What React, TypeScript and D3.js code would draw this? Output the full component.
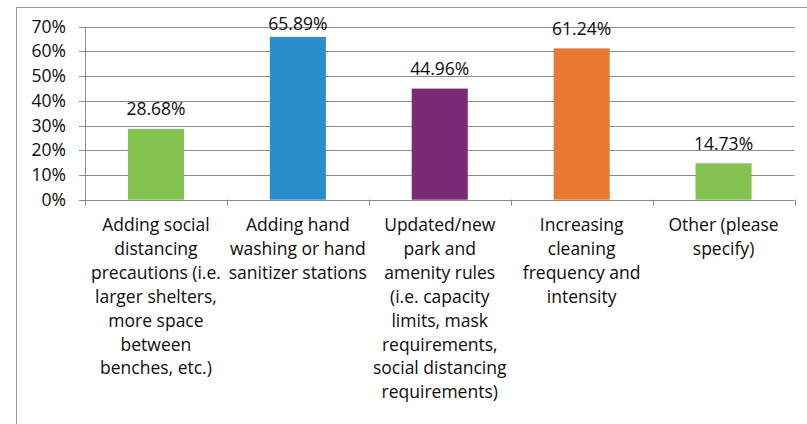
import React from "react";
import * as d3 from "d3";

// Survey responses: share of agencies adopting each measure
const categories: string[][] = [
  ["Adding social", "distancing", "precautions (i.e.", "larger shelters,", "more space", "between", "benches, etc.)"],
  ["Adding hand", "washing or hand", "sanitizer stations"],
  ["Updated/new", "park and", "amenity rules", "(i.e. capacity", "limits, mask", "requirements,", "social distancing", "requirements)"],
  ["Increasing", "cleaning", "frequency and", "intensity"],
  ["Other (please", "specify)"],
];
const values: number[] = [28.68, 65.89, 44.96, 61.24, 14.73];
const barColors: string[] = ["#82c44f", "#2a8dcc", "#7c2a75", "#e87932", "#82c44f"];
const yTicks: number[] = [0, 10, 20, 30, 40, 50, 60, 70];

const W = 807;
const H = 424;
const plot = { left: 85, right: 794.5, top: 26.7, bottom: 199.7 };
const FONT = "'Open Sans', sans-serif";
const FS = 17.5;
const TEXT = "#0d0d0d";

export default function App() {
  const x = d3
    .scaleBand<number>()
    .domain(values.map((_, i) => i))
    .range([plot.left, plot.right])
    .paddingInner(0)
    .paddingOuter(0);
  const y = d3.scaleLinear().domain([0, 70]).range([plot.bottom, plot.top]);
  const bw = x.bandwidth();
  const barW = bw * 0.395;
  const bounds = d3.range(values.length + 1).map((i) => plot.left + i * bw);

  return (
    <svg
      width={W}
      height={H}
      style={{ position: "absolute", left: 0, top: 0, background: "#fff" }}
      fontFamily={FONT}
    >
      {/* chart frame */}
      <rect x={16.5} y={7.5} width={1000} height={1000} fill="#fff" stroke="#9b9b9b" strokeWidth={1} />

      {/* horizontal gridlines */}
      {yTicks.slice(1).map((t) => (
        <line
          key={t}
          x1={plot.left}
          x2={plot.right}
          y1={Math.round(y(t)) + 0.5}
          y2={Math.round(y(t)) + 0.5}
          stroke="#8c8c8c"
          strokeWidth={1}
        />
      ))}

      {/* bars */}
      {values.map((v, i) => {
        const cx = (x(i) as number) + bw / 2;
        return (
          <rect
            key={i}
            x={cx - barW / 2}
            y={y(v)}
            width={barW}
            height={y(0) - y(v)}
            fill={barColors[i]}
          />
        );
      })}

      {/* value labels */}
      {values.map((v, i) => {
        const cx = (x(i) as number) + bw / 2;
        const base = Math.max(y(v) - 13.5, 30);
        return (
          <text key={i} x={cx} y={base} textAnchor="middle" fontSize={FS} fill={TEXT}>
            {v.toFixed(2)}%
          </text>
        );
      })}

      {/* value axis */}
      <line x1={plot.left + 0.5} x2={plot.left + 0.5} y1={plot.top} y2={plot.bottom} stroke="#8c8c8c" />
      {yTicks.map((t) => (
        <g key={t}>
          <line
            x1={plot.left - 6}
            x2={plot.left}
            y1={Math.round(y(t)) + 0.5}
            y2={Math.round(y(t)) + 0.5}
            stroke="#8c8c8c"
          />
          <text x={66} y={y(t) + 6} textAnchor="end" fontSize={FS} fill={TEXT}>
            {t}%
          </text>
        </g>
      ))}

      {/* category axis */}
      <line
        x1={plot.left}
        x2={plot.right}
        y1={Math.round(plot.bottom) + 0.5}
        y2={Math.round(plot.bottom) + 0.5}
        stroke="#8c8c8c"
      />
      {bounds.map((bx, i) => (
        <line
          key={i}
          x1={Math.round(bx) + 0.5}
          x2={Math.round(bx) + 0.5}
          y1={plot.bottom}
          y2={plot.bottom + 6}
          stroke="#8c8c8c"
        />
      ))}
      {categories.map((lines, i) => {
        const cx = (x(i) as number) + bw / 2;
        return (
          <text key={i} textAnchor="middle" fontSize={FS} fill={TEXT}>
            {lines.map((ln, j) => (
              <tspan key={j} x={cx} y={231 + j * 23.9}>
                {ln}
              </tspan>
            ))}
          </text>
        );
      })}
    </svg>
  );
}
